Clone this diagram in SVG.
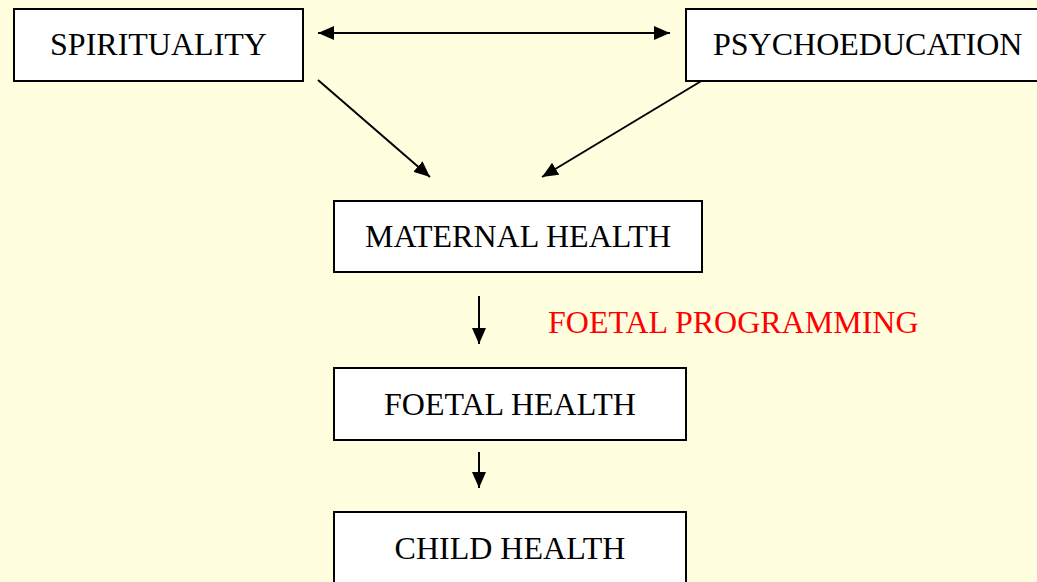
<svg xmlns="http://www.w3.org/2000/svg" width="1037" height="582" viewBox="0 0 1037 582">
<style>
.box{fill:#fff;stroke:#000;stroke-width:2}
.t{font-family:"Liberation Serif","Times New Roman",serif;font-size:32px;fill:#000}
.c{stroke:#000;stroke-width:2;fill:none}
</style>
<defs>
<marker id="ah" viewBox="0 0 10 10" refX="10" refY="5" markerWidth="8" markerHeight="7" markerUnits="strokeWidth" orient="auto-start-reverse" preserveAspectRatio="none">
<path d="M0,0 L10,5 L0,10 z" fill="#000"/>
</marker>
</defs>
<rect width="1037" height="582" fill="#FFFFE0"/>
<g id="connectors">
<line class="c" x1="318" y1="33" x2="670" y2="33" marker-start="url(#ah)" marker-end="url(#ah)"/>
<line class="c" x1="318" y1="80" x2="430" y2="177" marker-end="url(#ah)"/>
<line class="c" x1="703" y1="80" x2="542" y2="177" marker-end="url(#ah)"/>
<line class="c" x1="479" y1="296" x2="479" y2="344" marker-end="url(#ah)"/>
<line class="c" x1="479" y1="452" x2="479" y2="488" marker-end="url(#ah)"/>
</g>
<g id="spirituality">
<rect class="box" x="14" y="9" width="289" height="72"/>
<text class="t" x="158.5" y="55" text-anchor="middle">SPIRITUALITY</text>
</g>
<g id="psychoeducation">
<rect class="box" x="686" y="9" width="360" height="72"/>
<text class="t" x="713" y="55">PSYCHOEDUCATION</text>
</g>
<g id="maternal">
<rect class="box" x="334" y="201" width="368" height="71"/>
<text class="t" x="518" y="247" text-anchor="middle">MATERNAL HEALTH</text>
</g>
<g id="programming">
<text class="t" x="548" y="333" style="fill:#FF0000">FOETAL PROGRAMMING</text>
</g>
<g id="foetal">
<rect class="box" x="334" y="368" width="352" height="72"/>
<text class="t" x="510" y="415" text-anchor="middle">FOETAL HEALTH</text>
</g>
<g id="child">
<rect class="box" x="334" y="512" width="352" height="80"/>
<text class="t" x="510" y="559" text-anchor="middle">CHILD HEALTH</text>
</g>
</svg>
